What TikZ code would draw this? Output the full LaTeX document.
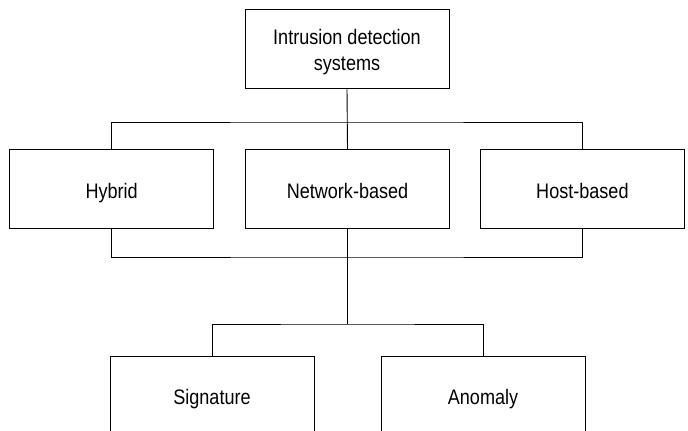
\documentclass[tikz,border=0pt]{standalone}
\usepackage{fontspec}
\setmainfont[FakeStretch=0.86]{Liberation Sans}
\usetikzlibrary{positioning}

\begin{document}
\begin{tikzpicture}[x=1pt, y=1pt, line width=0.9pt,
		idsbox/.style={draw, minimum width=204pt, minimum height=79pt, align=center, inner sep=0pt,
			text height=19pt, text depth=0pt, font=\fontsize{21}{26}\selectfont}]

			\useasboundingbox (0,0) rectangle (688,431);

			\node[idsbox, text height=45pt] (ids) at (347,382.5) {Intrusion detection\\systems};
			\node[idsbox] (net) at (347.5,242) {Network-based};
			\node[idsbox, left=31pt of net] (hybrid) {Hybrid};
			\node[idsbox, right=30pt of net] (host) {Host-based};
			\node[idsbox] (sig) at (212,35.5) {Signature};
			\node[idsbox] (anom) at (483,35.5) {Anomaly};

			% upper bus
			\coordinate (topbus) at (ids.south |- 0,309);
			\draw (ids.south) -- (net.north);
			\draw (hybrid.north) |- (topbus) -| (host.north);

			% lower bus
			\coordinate (lowbus) at (net.south |- 0,174);
			\draw (hybrid.south) |- (lowbus) -| (host.south);

			% split to signature / anomaly
			\coordinate (split) at (net.south |- 0,107);
			\draw (net.south) -- (split);
			\draw (sig.north) |- (split) -| (anom.north);
		\end{tikzpicture}
\end{document}
